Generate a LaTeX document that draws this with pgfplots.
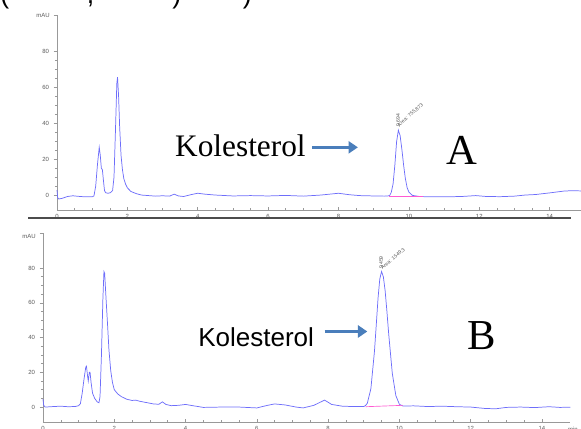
\documentclass[border=0pt]{standalone}
\usepackage{fontspec}
\setmainfont{Liberation Serif}
\newfontfamily\arial{Liberation Sans}
\usepackage{pgfplots}
\pgfplotsset{compat=1.18}
\usetikzlibrary{arrows.meta}

\definecolor{trace}{RGB}{110,110,250}
\definecolor{arrowblue}{RGB}{74,126,187}
\definecolor{basepink}{RGB}{255,90,210}
\definecolor{ticktext}{RGB}{90,90,90}

\newcommand{\tickfont}{\arial\fontsize{4.5}{5}\selectfont}

\pgfplotsset{chrom/.style={
  scale only axis,
  anchor=south west,
  axis x line=bottom, axis y line=left,
  axis line style={draw=gray!80, line width=0.5pt, -},
  xtick={0,2,...,14}, minor x tick num=3,
  ytick={0,20,40,60,80}, minor y tick num=3,
  extra y ticks={100}, extra y tick labels={},
  tick style={draw=gray!80, line width=0.4pt},
  major tick length=2.5pt, minor tick length=1.5pt,
  xtick align=inside, ytick align=outside,
  tick label style={font=\tickfont, text=ticktext},
  /pgf/number format/assume math mode=true,
  xticklabel style={yshift=0.5pt},
  yticklabel style={xshift=0pt},
  clip=false,
}}

\begin{document}
\begin{tikzpicture}
\useasboundingbox (0,0) rectangle (435.75pt,321pt);

% cut-off line of text above the picture
\node[anchor=base west, inner sep=0, font=\arial\fontsize{20}{20}\selectfont] at (0pt,318.5pt) {(};
\node[anchor=base west, inner sep=0, font=\arial\fontsize{20}{20}\selectfont] at (65pt,318.5pt) {,};
\node[anchor=base west, inner sep=0, font=\arial\fontsize{20}{20}\selectfont] at (129pt,318.5pt) {)};
\node[anchor=base west, inner sep=0, font=\arial\fontsize{20}{20}\selectfont] at (182pt,318.5pt) {)};

% ---------------- panel A ----------------
\begin{axis}[chrom,
  at={(42.75pt,163.5pt)},
  width=395.9pt, height=146.25pt,
  xmin=0, xmax=15.0, ymin=-8.3, ymax=100,
]
\addplot[trace, line width=0.55pt] coordinates {
(0.00,2.8) (0.02,-1.5) (0.05,-2.2) (0.15,-1.8) (0.30,-0.8) (0.45,-0.4)
(0.60,-0.7) (0.80,-1.0) (1.00,-1.0) (1.05,-0.5) (1.10,5) (1.15,17)
(1.20,26.5) (1.23,22) (1.26,15) (1.29,14) (1.32,8) (1.35,2.5) (1.38,1.3)
(1.45,1.0) (1.52,1.3) (1.58,2.5) (1.62,10) (1.66,35) (1.70,62) (1.72,65.5)
(1.75,55) (1.78,38) (1.82,22) (1.86,14) (1.90,9) (1.95,6) (2.00,4)
(2.10,2) (2.25,0.8) (2.40,0) (2.60,-0.3) (2.80,-0.6) (3.00,-0.4)
(3.20,-0.6) (3.33,0.5) (3.45,-0.5) (3.60,-0.8) (3.80,0.2) (4.00,1.0)
(4.20,0.5) (4.50,0) (5.00,-0.5) (5.50,-0.3) (6.00,-0.5) (6.50,-0.2)
(7.00,-0.6) (7.50,0) (8.00,1.0) (8.30,0.2) (8.60,-0.3) (9.00,-0.5)
(9.30,-0.6) (9.45,-0.4) (9.50,1.6) (9.55,6.2) (9.60,16.5) (9.65,29.6)
(9.70,36) (9.75,33) (9.80,25.4) (9.85,16.5) (9.90,9) (9.95,4.1)
(10.00,1.6) (10.10,-0.2) (10.30,-0.8) (10.60,-1.0) (11.00,-1.0)
(11.50,-0.8) (11.90,-0.3) (12.20,-0.8) (12.60,-0.9) (13.00,-0.6)
(13.30,0) (13.60,0.3) (14.00,1.2) (14.40,2.2) (14.60,2.4) (14.90,2.3)
};
\addplot[basepink, line width=0.5pt] coordinates {(9.42,-0.7) (10.40,-0.7)};
\node[font=\tickfont, text=ticktext, anchor=east] at (rel axis cs:0,1) [xshift=-2pt] {mAU};
\node[font=\tickfont, text=ticktext, anchor=north west] at (axis cs:14.75,-8.3) [yshift=-0.3pt] {min};
\node[font=\arial\fontsize{3.8}{4}\selectfont, text=gray!70!black, rotate=90, anchor=west, inner sep=0.5pt] at (axis cs:9.69,37.5) {9.694};
\node[font=\arial\fontsize{3.8}{4}\selectfont, text=gray!70!black, rotate=42, anchor=south west, inner sep=0.5pt] at (axis cs:9.73,37) {Area: 755.873};
\node[font=\fontsize{23.5}{24}\selectfont, anchor=base west, inner sep=0] at (axis cs:3.35,21.5) {Kolesterol};
\draw[arrowblue, line width=2.2pt, -{Triangle[length=7pt,width=9pt]}] (axis cs:7.25,26.5) -- (axis cs:8.55,26.5);
\node[font=\fontsize{32}{32}\selectfont, anchor=base west, inner sep=0] at (axis cs:11.05,17) {A};
\end{axis}
% separator line below panel A
\draw[gray!60!black, line width=0.9pt] (21pt,157.5pt) -- (428pt,157.5pt);

% ---------------- panel B ----------------
\begin{axis}[chrom,
  at={(32.25pt,4.5pt)},
  width=395.6pt, height=141.5pt,
  xmin=0, xmax=14.8, ymin=-8.6, ymax=100,
]
\addplot[trace, line width=0.55pt] coordinates {
(0.00,4.5) (0.02,1) (0.06,0) (0.30,0.3) (0.50,0.5) (0.70,0.2) (0.90,0.3)
(1.00,0.8) (1.05,2) (1.10,8) (1.15,16) (1.20,23) (1.22,23.5) (1.25,18)
(1.27,15) (1.30,20) (1.32,20) (1.35,14) (1.39,8) (1.45,5) (1.52,3)
(1.57,2.5) (1.60,6) (1.64,30) (1.68,62) (1.71,78) (1.73,77) (1.77,62)
(1.81,48) (1.85,33) (1.90,21) (1.95,14) (2.00,10) (2.10,7.5) (2.20,6)
(2.35,4.5) (2.50,3.8) (2.60,4) (2.70,3.4) (2.90,2.6) (3.10,1.8)
(3.25,1.6) (3.35,3) (3.45,1.5) (3.60,0.8) (3.80,1) (4.00,1.5) (4.20,0.8)
(4.50,-0.2) (5.00,0) (5.50,0) (6.00,-0.5) (6.30,1) (6.50,1.8) (6.80,1.2)
(7.10,0) (7.30,-0.5) (7.60,1) (7.90,4) (8.10,1.5) (8.40,0.5) (8.70,0.3)
(9.00,0.3) (9.05,0.9) (9.10,2.2) (9.20,10.6) (9.30,32) (9.35,47)
(9.40,62.5) (9.45,73.8) (9.50,78) (9.55,75) (9.60,66.9) (9.65,55)
(9.70,42) (9.80,19.5) (9.90,6.6) (10.00,1.6) (10.10,0.6) (10.40,0.7)
(10.80,0.3) (11.20,0.5) (11.60,0.2) (12.00,0) (12.40,-0.8) (12.70,-1)
(13.00,-0.2) (13.40,0) (13.80,-0.3) (14.20,0.2) (14.50,-0.2) (14.80,-0.1)
};
\addplot[basepink, line width=0.5pt] coordinates {(9.05,0.2) (10.10,1.0)};
\node[font=\tickfont, text=ticktext, anchor=east] at (rel axis cs:0,1) [xshift=-2pt, yshift=-2pt] {mAU};
\node[font=\tickfont, text=ticktext, anchor=north west] at (axis cs:14.6,-8.6) [yshift=-0.3pt] {min};
\node[font=\arial\fontsize{3.8}{4}\selectfont, text=gray!70!black, rotate=90, anchor=west, inner sep=0.5pt] at (axis cs:9.49,79) {9.459};
\node[font=\arial\fontsize{3.8}{4}\selectfont, text=gray!70!black, rotate=40, anchor=south west, inner sep=0.5pt] at (axis cs:9.53,78.5) {Area: 1549.3};
\node[font=\arial\fontsize{19.5}{20}\selectfont, anchor=base west, inner sep=0] at (axis cs:4.35,35) {Kolesterol};
\draw[arrowblue, line width=2.2pt, -{Triangle[length=7pt,width=9pt]}] (axis cs:7.9,43.5) -- (axis cs:9.1,43.5);
\node[font=\fontsize{32}{32}\selectfont, anchor=base west, inner sep=0] at (axis cs:11.9,33) {B};
\end{axis}
\end{tikzpicture}
\end{document}
